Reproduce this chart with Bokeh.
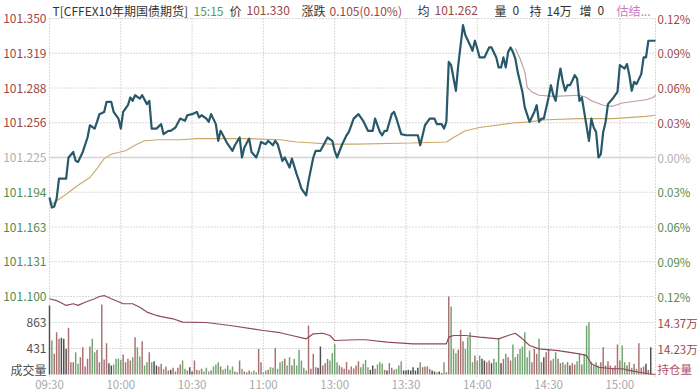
import numpy as np
from bokeh.plotting import figure
from bokeh.models import Range1d, ColumnDataSource
from bokeh.core.properties import value
from bokeh.embed import file_html
from bokeh.resources import INLINE

# ---------------- data ----------------
time_ticks = [0, 30, 60, 90, 120, 150, 180, 210, 240]
time_labels = ["09:30", "10:00", "10:30", "11:00", "13:00", "13:30", "14:00", "14:30", "15:00"]
session_minutes = 255  # 09:30-11:30 + 13:00-15:15

pre_close = 101.225
price_ticks = [101.350, 101.31875, 101.2875, 101.25625, 101.225, 101.19375, 101.1625, 101.13125, 101.100]
price_labels = ["101.350", "101.319", "101.288", "101.256", "101.225", "101.194", "101.163", "101.131", "101.100"]
pct_labels = ["0.12%", "0.09%", "0.06%", "0.03%", "0.00%", "0.03%", "0.06%", "0.09%", "0.12%"]

vol_ticks = [863, 431]
vol_labels = ["863", "431"]
hold_ticks = [14.37, 14.23]
hold_labels = ["14.37万", "14.23万"]

price_min = [0, 1, 2, 3, 4, 7, 8, 10, 11, 12, 14, 16, 17, 19, 20, 21, 23, 24, 26, 27, 29, 30, 31, 33, 34, 35, 36, 38, 39,
             41, 42, 43, 45, 47, 48, 50, 51, 53, 55, 57, 58, 60, 62, 63, 64, 66, 67, 68, 70, 71, 72, 73, 75, 77, 78, 80,
             81, 82, 84, 85, 87, 88, 89, 91, 92, 94, 95, 96, 98, 99, 101, 102, 104, 105, 106, 108, 109, 111, 112, 114,
             116, 117, 119, 120, 121, 123, 125, 126, 128, 130, 132, 134, 136, 137, 139, 140, 141, 142, 144, 145, 146,
             148, 150, 153, 155, 156, 157, 158, 160, 162, 163, 165, 166, 167, 168, 169, 171, 172, 174, 175, 177, 178,
             179, 180, 181, 183, 185, 186, 188, 189, 190, 191, 192, 193, 194, 195, 196, 197, 199, 200, 202, 204, 205,
             206, 207, 208, 210, 211, 212, 213, 214, 215, 216, 217, 218, 219, 220, 221, 222, 223, 224, 225, 227, 228,
             229, 230, 231, 232, 233, 234, 235, 237, 239, 240, 242, 243, 244, 245, 246, 247, 249, 250, 251, 252, 255]
price_val = [101.189, 101.180, 101.181, 101.188, 101.206, 101.206, 101.225, 101.230, 101.222, 101.221, 101.230, 101.243,
             101.254, 101.251, 101.257, 101.264, 101.266, 101.275, 101.275, 101.266, 101.260, 101.251, 101.266, 101.272,
             101.279, 101.276, 101.281, 101.278, 101.281, 101.273, 101.276, 101.251, 101.251, 101.255, 101.246, 101.249,
             101.249, 101.252, 101.260, 101.258, 101.263, 101.264, 101.266, 101.261, 101.263, 101.260, 101.257, 101.264,
             101.255, 101.240, 101.249, 101.245, 101.237, 101.231, 101.236, 101.243, 101.225, 101.234, 101.242, 101.230,
             101.225, 101.231, 101.239, 101.237, 101.240, 101.236, 101.240, 101.237, 101.222, 101.225, 101.216, 101.224,
             101.210, 101.204, 101.197, 101.191, 101.204, 101.225, 101.231, 101.231, 101.239, 101.243, 101.240, 101.231,
             101.225, 101.236, 101.245, 101.248, 101.260, 101.264, 101.258, 101.249, 101.249, 101.260, 101.248, 101.245,
             101.249, 101.249, 101.264, 101.266, 101.260, 101.246, 101.245, 101.245, 101.245, 101.236, 101.245, 101.254,
             101.260, 101.260, 101.255, 101.255, 101.251, 101.257, 101.311, 101.308, 101.285, 101.308, 101.344, 101.335,
             101.326, 101.321, 101.330, 101.323, 101.315, 101.315, 101.324, 101.324, 101.315, 101.306, 101.306, 101.315,
             101.306, 101.320, 101.324, 101.320, 101.314, 101.302, 101.284, 101.270, 101.257, 101.266, 101.272, 101.257,
             101.260, 101.260, 101.279, 101.290, 101.281, 101.276, 101.293, 101.305, 101.293, 101.285, 101.290, 101.290,
             101.294, 101.299, 101.296, 101.276, 101.279, 101.266, 101.240, 101.260, 101.252, 101.248, 101.225, 101.228,
             101.248, 101.257, 101.273, 101.278, 101.284, 101.308, 101.305, 101.309, 101.299, 101.285, 101.293, 101.291,
             101.300, 101.315, 101.315, 101.330, 101.330]

avg_min = [0, 1, 7, 12, 17, 20, 23, 26, 32, 36, 40, 46, 55, 62, 69, 83, 97, 104, 111, 118, 129, 152, 167, 170, 175, 181,
           195, 202, 209, 223, 237, 251, 255]
avg_val = [101.184, 101.183, 101.192, 101.200, 101.207, 101.215, 101.224, 101.228, 101.231, 101.236, 101.240, 101.241,
           101.241, 101.242, 101.242, 101.242, 101.241, 101.239, 101.238, 101.237, 101.237, 101.238, 101.239, 101.243,
           101.249, 101.252, 101.256, 101.257, 101.259, 101.260, 101.260, 101.262, 101.263]

est_min = [196, 198, 200, 201, 203, 206, 212, 223, 226, 228, 233, 237, 241, 251, 254, 255]
est_val = [101.323, 101.314, 101.302, 101.288, 101.284, 101.281, 101.280, 101.281, 101.279, 101.276, 101.272, 101.271,
           101.274, 101.277, 101.279, 101.281]

hold_min = [0, 3, 7, 10, 12, 15, 19, 21, 23, 26, 31, 35, 38, 41, 45, 47, 52, 56, 66, 76, 90, 97, 102, 108, 109, 111,
            115, 118, 120, 129, 133, 142, 153, 164, 167, 168, 170, 175, 181, 189, 193, 196, 199, 202, 206, 214, 223,
            226, 228, 231, 237, 241, 244, 248, 252, 255]
hold_val = [14.498, 14.488, 14.462, 14.471, 14.462, 14.479, 14.498, 14.510, 14.515, 14.498, 14.471, 14.471, 14.452,
            14.426, 14.408, 14.402, 14.390, 14.372, 14.370, 14.354, 14.327, 14.315, 14.300, 14.282, 14.291, 14.309,
            14.312, 14.300, 14.273, 14.277, 14.277, 14.264, 14.255, 14.255, 14.255, 14.291, 14.300, 14.300, 14.291,
            14.282, 14.300, 14.312, 14.282, 14.246, 14.228, 14.219, 14.201, 14.192, 14.148, 14.129, 14.121, 14.121,
            14.112, 14.102, 14.094, 14.090]

# one bar per trading minute, starting 09:30
volume = [1145, 564, 343, 702, 592, 608, 592, 426, 774, 205,
          205, 370, 177, 288, 453, 133, 260, 464, 592, 370,
          409, 205, 1161, 249, 520, 188, 149, 166, 260, 260,
          243, 332, 205, 260, 232, 288, 619, 453, 300, 553,
          149, 205, 370, 205, 221, 149, 133, 177, 88, 133,
          66, 77, 111, 50, 111, 166, 232, 94, 66, 122,
          50, 232, 77, 66, 94, 50, 111, 50, 66, 133,
          166, 205, 133, 77, 94, 149, 77, 133, 50, 39,
          232, 94, 50, 39, 66, 39, 66, 39, 426, 205,
          39, 66, 77, 122, 111, 442, 94, 205, 221, 260,
          149, 288, 150, 260, 149, 409, 232, 111, 66, 813,
          94, 343, 122, 111, 464, 149, 188, 260, 232, 354,
          508, 205, 149, 122, 94, 205, 77, 133,
          100, 150,
          221, 122, 177, 243, 122, 77, 149, 94, 166, 205,
          177, 77, 66, 188, 111, 77, 94, 149, 221, 66,
          66, 77, 66, 122, 66, 111, 205, 122, 133, 133,
          94, 66, 50, 39, 50, 22, 205, 39, 1294, 1128,
          426, 354, 409, 741, 553, 426, 619, 702, 205, 315,
          232, 315, 260, 232, 205, 232, 188, 260, 205, 608,
          188, 260, 343, 288, 232, 498, 288, 343,
          426, 464, 702, 288, 398, 205, 426, 343, 592, 205,
          288, 370, 426, 232, 260, 370, 260, 188, 205,
          166, 205, 149, 188, 166, 221, 343, 166, 343,
          813, 868, 205, 149, 205, 149, 205, 453, 149, 221,
          149, 111, 149, 498, 232, 481, 205, 149, 205,
          111, 177, 94, 520, 111, 133, 177, 77, 453]

header_texts = ["T[CFFEX10年期国债期货]", "15:15", "价", "101.330", "涨跌", "0.105(0.10%)", "均", "101.262",
                "量", "0", "持", "14万", "增", "0", "估结..."]

# ---------------- layout constants (pixels) ----------------
FONT = "Noto Sans CJK SC"
RED = "#9c4644"
GREEN = "#4f8c4f"
GRAY = "#b0b0b0"
DARK = "#333333"
W, H = 700, 391
LEFT_PX, RIGHT_PX = 49, 45      # space for tick labels
TOP_PX = 18                     # space for the header line
PRICE_PX, VOL_PX = 278, 78      # heights of price and volume panes
BOTTOM_PX = H - TOP_PX - PRICE_PX - VOL_PX

plot_px = W - LEFT_PX - RIGHT_PX
min_per_px = session_minutes / plot_px
price_top, price_bot = price_ticks[0], price_ticks[-1]
per_px = (price_top - price_bot) / PRICE_PX
vol_pane_top = 1.5 * vol_ticks[0]
vol_per_px = vol_pane_top / VOL_PX
hold_bot, hold_pane_top = 14.09, 14.51
hold_per_px = (hold_pane_top - hold_bot) / VOL_PX
pane_bottom = price_bot - VOL_PX * per_px   # bottom of volume pane in price units

p = figure(width=W, height=H, min_border=0, x_axis_location=None, y_axis_location=None,
           x_range=Range1d(-LEFT_PX * min_per_px, session_minutes + RIGHT_PX * min_per_px),
           y_range=Range1d(pane_bottom - BOTTOM_PX * per_px, price_top + TOP_PX * per_px),
           output_backend="svg", toolbar_location=None)
p.outline_line_color = None
p.xgrid.visible = False
p.ygrid.visible = False
p.background_fill_color = "white"
p.border_fill_color = "white"
p.extra_y_ranges = {
    "vol": Range1d(-BOTTOM_PX * vol_per_px, (PRICE_PX + VOL_PX + TOP_PX) * vol_per_px),
    "hold": Range1d(hold_bot - BOTTOM_PX * hold_per_px, hold_bot + (PRICE_PX + VOL_PX + TOP_PX) * hold_per_px),
}

GRID = dict(line_color="#b4b4b4", line_dash="1 2", line_width=1)
# horizontal grid lines of price pane (pre-close solid)
hticks = [t for t in price_ticks if t != pre_close]
p.segment(x0=[0] * len(hticks), x1=[session_minutes] * len(hticks), y0=hticks, y1=hticks, **GRID)
p.segment(x0=[0], x1=[session_minutes], y0=[pre_close], y1=[pre_close], line_color="#d4d4d4", line_width=1.6)
# volume pane grid
p.segment(x0=[0] * 2, x1=[session_minutes] * 2, y0=vol_ticks, y1=vol_ticks, y_range_name="vol", **GRID)
# vertical grid lines
vticks = time_ticks + [session_minutes]
p.segment(x0=vticks, x1=vticks, y0=[price_top] * len(vticks), y1=[pane_bottom - 4 * per_px] * len(vticks), **GRID)

# volume bars coloured by price direction
m = np.arange(len(volume))
cur = np.interp(m, price_min, price_val)
prev = np.interp(m - 1, price_min, price_val)
colors = np.where(cur - prev > 0.0008, "#a87272",
                  np.where(cur - prev < -0.0008, "#72a472", "#505050"))
vsrc = ColumnDataSource(dict(m=m, v=volume, c=list(colors)))
p.vbar(x="m", top="v", bottom=0, width=0.62, source=vsrc, y_range_name="vol",
       fill_color="c", line_color=None)

# lines
p.line(hold_min, hold_val, y_range_name="hold", line_color="#8e4a5a", line_width=1.2)
p.line(avg_min, avg_val, line_color="#caa86c", line_width=1.1)
p.line(est_min, est_val, line_color="#b99ca6", line_width=1.1)
p.line(price_min, price_val, line_color="#27596a", line_width=2.2, line_join="round")

TXT = dict(text_font=value(FONT), text_baseline="middle")

# price / percent tick labels
pcol = [RED if t > pre_close else (GRAY if t == pre_close else GREEN) for t in price_ticks]
psrc = ColumnDataSource(dict(y=price_ticks, t=price_labels, q=pct_labels, c=pcol,
                             x0=[0] * len(price_ticks), x1=[session_minutes] * len(price_ticks)))
p.text(x="x0", y="y", text="t", text_color="c", x_offset=-3, text_align="right",
       text_font_size=value("12px"), source=psrc, **TXT)
p.text(x="x1", y="y", text="q", text_color="c", x_offset=2, text_align="left",
       text_font_size=value("11.5px"), source=psrc, **TXT)

# volume pane labels
p.text(x=[0] * 3, y=vol_ticks + [0.07 * vol_pane_top], text=vol_labels + ["成交量"], y_range_name="vol",
       x_offset=-3, text_align="right", text_color="#505050", text_font_size=value("12px"), **TXT)
p.text(x=[session_minutes] * 2, y=hold_ticks, text=hold_labels, y_range_name="hold",
       x_offset=2, text_align="left", text_color=RED, text_font_size=value("11.5px"), **TXT)
p.text(x=[session_minutes], y=[0.07 * vol_pane_top], text=["持仓量"], y_range_name="vol",
       x_offset=2, text_align="left", text_color="#b0506a", text_font_size=value("11.5px"), **TXT)

# time labels under the volume pane
p.text(x=time_ticks, y=[pane_bottom - (BOTTOM_PX / 2 + 0.5) * per_px] * len(time_ticks), text=time_labels,
       text_align="center", text_color="#a8a8a8", text_font_size=value("11.5px"), **TXT)

# header line
header_x = [3, 144, 180, 197, 252, 280, 368, 385, 445, 463, 480, 497, 530, 548, 567]
header_colors = [DARK, "#4c9c56", DARK, RED, DARK, RED, DARK, RED, DARK, DARK, DARK, DARK, DARK, DARK, "#c47cc4"]
hsrc = ColumnDataSource(dict(x=[0] * len(header_texts), y=[price_top + 8.5 * per_px] * len(header_texts),
                             t=header_texts, c=header_colors, o=header_x))
p.text(x="x", y="y", text="t", text_color="c", x_offset="o", text_align="left",
       text_font_size=value("12px"), source=hsrc, **TXT)

open("out.html", "w").write(file_html(p, INLINE))
